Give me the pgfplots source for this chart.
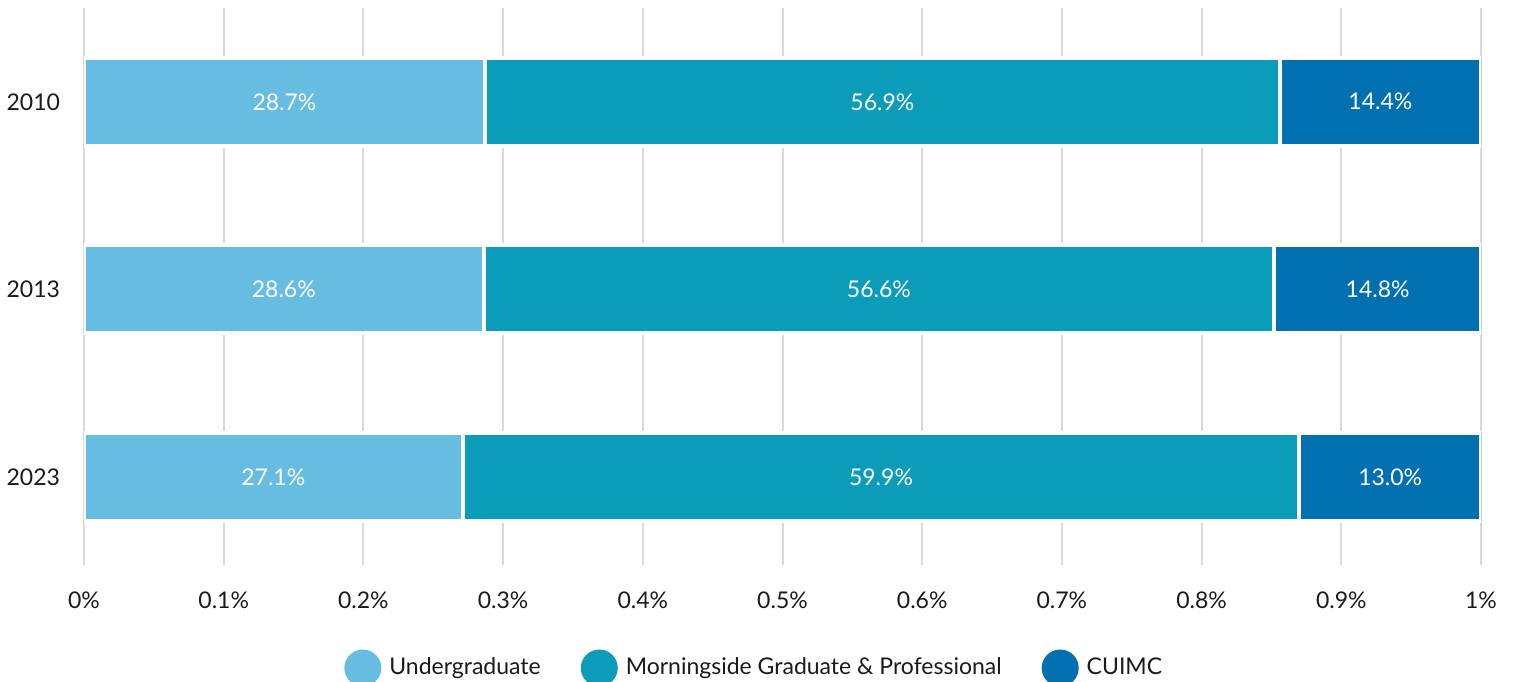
\documentclass[border=0pt]{standalone}
\usepackage{pgfplots}
\pgfplotsset{compat=1.18}
\usepackage{fontspec}
\setmainfont{Lato}
\definecolor{cUG}{HTML}{67BCE2}
\definecolor{cMG}{HTML}{0A9CB9}
\definecolor{cCU}{HTML}{0070B0}
\definecolor{cGrid}{HTML}{D9D9D9}
\definecolor{cText}{HTML}{1A1A1A}
\begin{document}
\begin{tikzpicture}
\useasboundingbox (-42pt,-58pt) rectangle (716.5pt,282.5pt);
\begin{axis}[
  at={(0,0)}, anchor=south west,
  scale only axis, width=698.5pt, height=278.5pt,
  xmin=0, xmax=1, ymin=-0.47, ymax=2.5,
  xbar stacked, bar width=44pt,
  axis line style={draw=none},
  tick style={draw=none},
  xmajorgrids, grid style={cGrid, line width=1pt},
  xtick={0,0.1,0.2,0.3,0.4,0.5,0.6,0.7,0.8,0.9,1},
  xticklabels={0\%,0.1\%,0.2\%,0.3\%,0.4\%,0.5\%,0.6\%,0.7\%,0.8\%,0.9\%,1\%},
  ytick={0,1,2}, yticklabels={2023,2013,2010},
  /pgf/number format/assume math mode=true,
  ticklabel style={font=\fontsize{11.5}{13}\selectfont, text=cText},
  xticklabel style={yshift=-10pt},
  yticklabel style={xshift=-8.5pt},
  legend columns=3,
  legend style={at={(0.4805,0)}, anchor=center, yshift=-51.5pt, draw=none, fill=none,
    font=\fontsize{11.5}{13}\selectfont, text=cText,
    /tikz/every odd column/.append style={column sep=2pt},
    /tikz/every even column/.append style={column sep=18pt}},
  legend image code/.code={\fill[#1, draw=none] (9.25pt,0pt) circle (9.25pt);},
]
\addplot[fill=cUG, draw=white, line width=2pt] coordinates {(0.287,2) (0.286,1) (0.271,0)};
\addplot[fill=cMG, draw=white, line width=2pt] coordinates {(0.569,2) (0.566,1) (0.599,0)};
\addplot[fill=cCU, draw=white, line width=2pt] coordinates {(0.144,2) (0.148,1) (0.130,0)};
\legend{Undergraduate, Morningside Graduate \& Professional, CUIMC}
\end{axis}
\begin{axis}[
  at={(0,0)}, anchor=south west,
  scale only axis, width=698.5pt, height=278.5pt,
  xmin=0, xmax=1, ymin=-0.47, ymax=2.5,
  hide axis,
]
\addplot[draw=none, mark=none, nodes near coords, point meta=explicit symbolic,
  every node near coord/.append style={anchor=center, text=white, font=\fontsize{11.5}{13}\selectfont}]
  coordinates {
  (0.1435,2) [28.7\%] (0.5715,2) [56.9\%] (0.928,2) [14.4\%]
  (0.143,1) [28.6\%] (0.569,1) [56.6\%] (0.926,1) [14.8\%]
  (0.1355,0) [27.1\%] (0.5705,0) [59.9\%] (0.935,0) [13.0\%]
  };
\end{axis}
\end{tikzpicture}
\end{document}
